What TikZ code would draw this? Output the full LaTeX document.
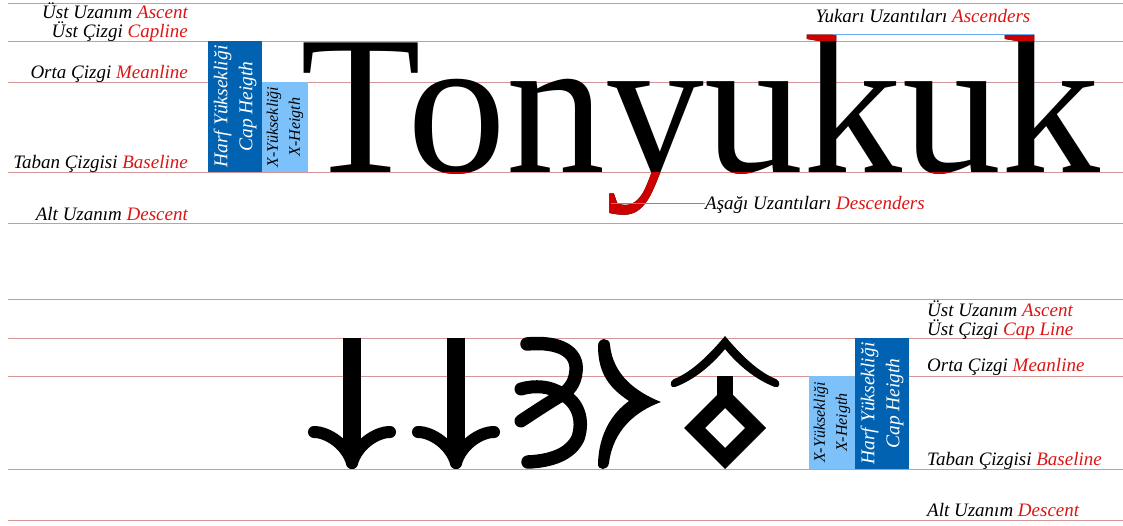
\documentclass[tikz,border=0pt]{standalone}
\usepackage{fontspec}
\setmainfont{Liberation Serif}
\definecolor{guide}{RGB}{212,150,150}
\definecolor{capblue}{RGB}{0,98,176}
\definecolor{xblue}{RGB}{125,193,250}
\definecolor{accent}{RGB}{204,0,0}
\definecolor{lblred}{RGB}{220,20,20}
\definecolor{callout}{RGB}{70,150,235}
\newcommand\wordfont{\fontsize{198}{200}\selectfont}
\newcommand\lblfont{\fontsize{19}{22}\selectfont\itshape}
\begin{document}
\begin{tikzpicture}[x=1pt,y=-1pt,
  guideline/.style={draw=guide,line width=0.8pt},
  lbl/.style={font=\lblfont,inner sep=0pt},
  capbox/.style={fill=capblue},
  xbox/.style={fill=xblue},
  captext/.style={rotate=90,align=center,text=white,inner sep=0pt,font=\fontsize{19.5}{25}\selectfont\itshape},
  xtext/.style={rotate=90,align=center,text=black,inner sep=0pt,font=\fontsize{16}{22}\selectfont\itshape},
  word/.style={anchor=base west,inner sep=0pt,font=\wordfont},
  callline/.style={draw=callout,line width=0.9pt},
  rune/.style={draw=black,line width=13.5pt,line cap=round},
  barb/.style={draw=black,line width=12pt,line cap=round},
  oq/.pic={
    \fill (-9,-131) rectangle (9,-12);
    \draw[barb] (-38,-37) .. controls (-24,-37) and (-5,-24) .. (0,-6);
    \draw[barb] (38,-37) .. controls (24,-37) and (5,-24) .. (0,-6);
  }]
\useasboundingbox (0,0) rectangle (1123,525);

% guide lines
\foreach \yy in {3,41,82,172,223,299,338,376,469,520}
  \draw[guideline] (8,\yy) -- (1123,\yy);

% ---------------- top: Latin ----------------
\node[lbl,anchor=base east] (tAsc)  at (188,18.3) {Üst Uzanım \textcolor{lblred}{Ascent}};
\node[lbl,anchor=base east] (tCap)  at (188,37.3) {Üst Çizgi \textcolor{lblred}{Capline}};
\node[lbl,anchor=base east] (tMean) at (188,78)   {Orta Çizgi \textcolor{lblred}{Meanline}};
\node[lbl,anchor=base east] (tBase) at (188,168)  {Taban Çizgisi \textcolor{lblred}{Baseline}};
\node[lbl,anchor=base east] (tDesc) at (188,220)  {Alt Uzanım \textcolor{lblred}{Descent}};

\path[capbox] (208,41) rectangle (262,172);
\path[xbox] (262,82) rectangle (308,172);
\node[captext] (tCapH) at (235,106.5) {Harf Yüksekliği\\Cap Heigth};
\node[xtext] (tXH) at (285,127) {X-Yüksekliği\\X-Heigth};

\node[word] (w) at (300,172) {Tonyukuk};
\begin{scope}
  \clip (0,172.6) rectangle (1123,240);
  \node[word,text=accent] (wd) at (300,172) {Tonyukuk};
\end{scope}
\begin{scope}
  \clip (780,0) rectangle (1123,40.6);
  \node[word,text=accent] (wa) at (300,172) {Tonyukuk};
\end{scope}

\coordinate (ytail) at (611,203.3);
\node[lbl,anchor=base west] (desc) at (705,209.5) {Aşağı Uzantıları \textcolor{lblred}{Descenders}};
\draw[callline] (ytail) -- (ytail -| desc.west);

\coordinate (kA) at (833,34.5);
\coordinate (kB) at (1033,34.5);
\draw[callline,draw=callout!80] (kA) -- (kB);
\node[lbl,anchor=base] (asc) at (923,22.7) {Yukarı Uzantıları \textcolor{lblred}{Ascenders}};

% ---------------- bottom: Old Turkic ----------------
\pic at (352,469) {oq};
\pic at (456,469) {oq};

% eng-like letter
\draw[rune] (527,344) .. controls (560,341) and (578,352) .. (576,371)
            .. controls (575,384) and (568,391) .. (562,394)
            .. controls (578,402) and (584,420) .. (578,438)
            .. controls (570,455) and (550,461) .. (528,462);
\draw[rune,line width=13pt] (521,389) .. controls (535,385) and (550,386) .. (562,394);
\draw[rune,line width=13pt] (560,396) .. controls (545,405) and (530,415) .. (521,421);

% o/u letter
\fill (598,346) .. controls (598,337) and (610,337) .. (610,345)
      .. controls (613,375) and (636,392) .. (661,402)
      .. controls (636,411) and (613,430) .. (609,463)
      .. controls (608,471) and (597,471) .. (598,463)
      .. controls (599,435) and (611,414) .. (629,401)
      .. controls (611,389) and (598,375) .. (598,346) -- cycle;

% t letter (diamond with roof)
\fill (725,336) .. controls (740,354) and (758,372) .. (776,379)
      .. controls (781,381) and (780,389) .. (775,387)
      .. controls (756,380) and (738,365) .. (725,349)
      .. controls (712,365) and (694,380) .. (675,387)
      .. controls (670,389) and (669,381) .. (674,379)
      .. controls (692,372) and (710,354) .. (725,336) -- cycle;
\fill (717,376) rectangle (733,400);
\fill[even odd rule] (725,387) -- (766,428) -- (725,469) -- (684,428) -- cycle
      (725,408) -- (745,428) -- (725,448) -- (705,428) -- cycle;

\path[xbox] (809,376) rectangle (855,469);
\path[capbox] (855,338) rectangle (909,469);
\node[xtext] (bXH) at (832,422.5) {X-Yüksekliği\\X-Heigth};
\node[captext] (bCapH) at (882,403.5) {Harf Yüksekliği\\Cap Heigth};

\node[lbl,anchor=base west] (bAsc)  at (927,316)   {Üst Uzanım \textcolor{lblred}{Ascent}};
\node[lbl,anchor=base west] (bCap)  at (927,335)   {Üst Çizgi \textcolor{lblred}{Cap Line}};
\node[lbl,anchor=base west] (bMean) at (927,371.7) {Orta Çizgi \textcolor{lblred}{Meanline}};
\node[lbl,anchor=base west] (bBase) at (927,465.7) {Taban Çizgisi \textcolor{lblred}{Baseline}};
\node[lbl,anchor=base west] (bDesc) at (927,516.7) {Alt Uzanım \textcolor{lblred}{Descent}};
\end{tikzpicture}
\end{document}
